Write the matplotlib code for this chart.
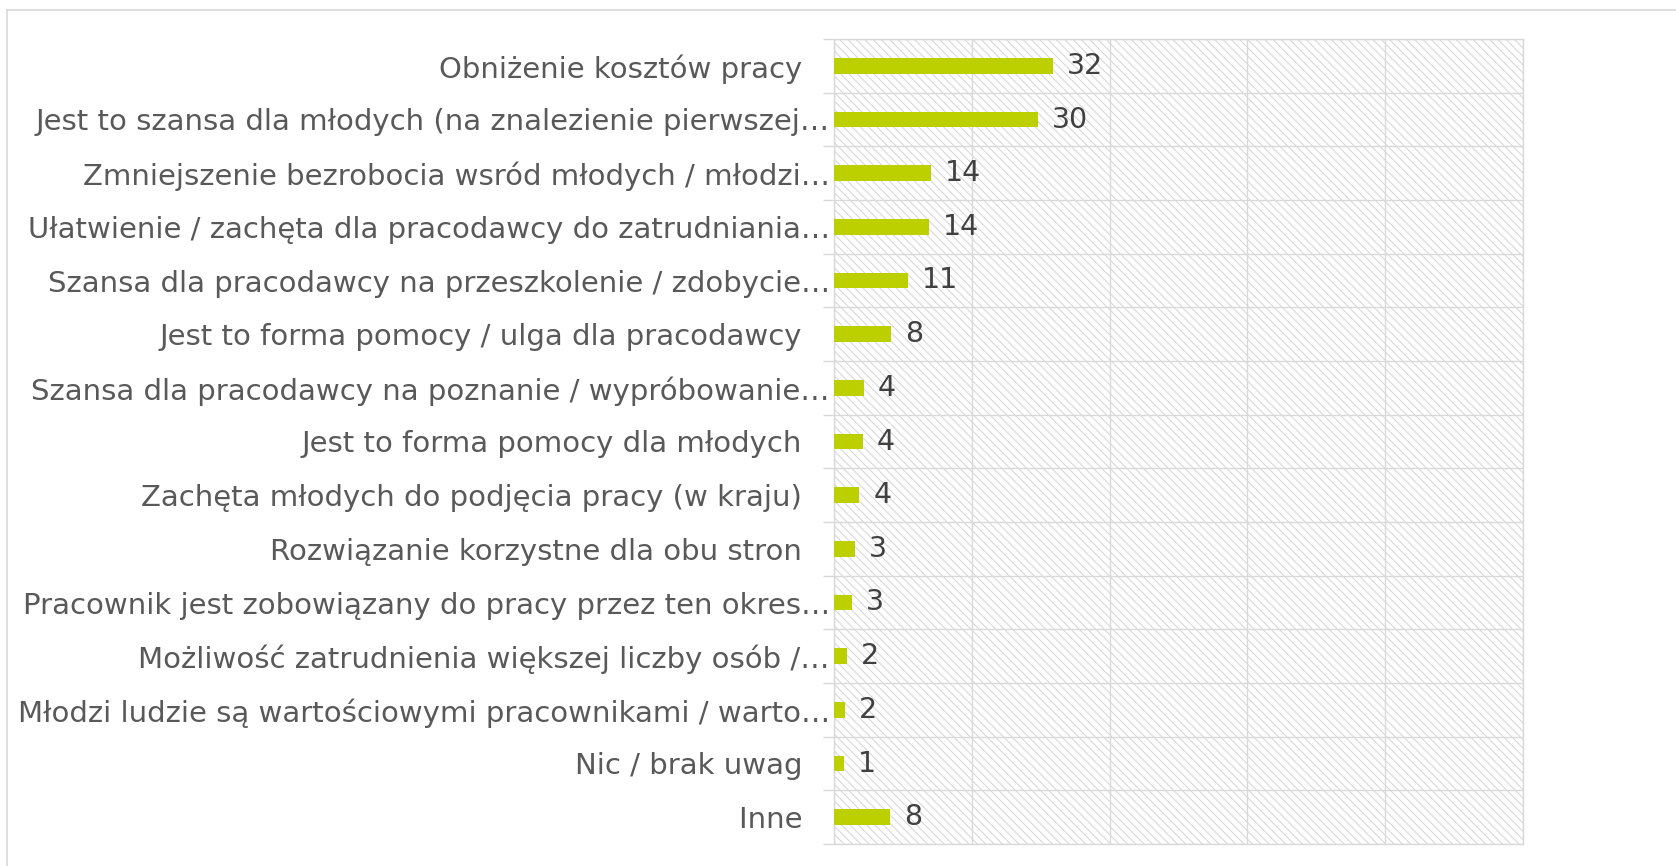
import numpy as np
import matplotlib.pyplot as plt
from matplotlib.patches import Rectangle
from matplotlib.lines import Line2D

categories = [
    "Obniżenie kosztów pracy   ",
    "Jest to szansa dla młodych (na znalezienie pierwszej…",
    "Zmniejszenie bezrobocia wsród młodych / młodzi…",
    "Ułatwienie / zachęta dla pracodawcy do zatrudniania…",
    "Szansa dla pracodawcy na przeszkolenie / zdobycie…",
    "Jest to forma pomocy / ulga dla pracodawcy   ",
    "Szansa dla pracodawcy na poznanie / wypróbowanie…",
    "Jest to forma pomocy dla młodych   ",
    "Zachęta młodych do podjęcia pracy (w kraju)   ",
    "Rozwiązanie korzystne dla obu stron   ",
    "Pracownik jest zobowiązany do pracy przez ten okres…",
    "Możliwość zatrudnienia większej liczby osób /…",
    "Młodzi ludzie są wartościowymi pracownikami / warto…",
    "Nic / brak uwag   ",
    "Inne   ",
]
values = [31.8, 29.6, 14.1, 13.8, 10.7, 8.3, 4.3, 4.2, 3.7, 3.0, 2.6, 1.9, 1.6, 1.4, 8.1]

bar_color = '#bcd000'
grid_color = '#d9d9d9'

plt.rcParams['font.family'] = ['DejaVu Sans']
plt.rcParams['hatch.linewidth'] = 0.7

fig = plt.figure(figsize=(16.76, 8.66), dpi=100)
ax = fig.add_axes([834/1676, 1-844/866, (1523-834)/1676, (844-39)/866])

n = len(categories)
y = np.arange(n)

# hatched plot area
bg = Rectangle((0, 0), 1, 1, transform=ax.transAxes, facecolor='white',
               edgecolor='#d4d4d4', hatch='\\\\\\\\', linewidth=0, zorder=0)
ax.add_patch(bg)

ax.barh(y, values, height=0.29, color=bar_color, zorder=3)

for yi, v in zip(y, values):
    ax.annotate(f"{v:.0f}", (v, yi), xytext=(10, 0), textcoords='offset points',
                va='center', ha='left', fontsize=20.5, color='#404040', zorder=4)

ax.set_xlim(0, 100)
ax.set_ylim(n - 0.5, -0.5)
ax.set_xticks(np.arange(0, 101, 20))
ax.set_xticklabels([])
ax.tick_params(axis='x', length=0)

ax.set_yticks(y)
ax.set_yticklabels(categories, fontsize=21, color='#595959')
ax.set_yticks(np.arange(-0.5, n, 1), minor=True)
ax.tick_params(axis='y', which='major', length=0, pad=3)
ax.tick_params(axis='y', which='minor', length=8, width=1.0, color=grid_color)

ax.grid(axis='x', which='major', color=grid_color, linewidth=1.0, zorder=1)
ax.grid(axis='y', which='minor', color=grid_color, linewidth=1.0, zorder=1)
ax.set_axisbelow(True)
for s in ax.spines.values():
    s.set_color(grid_color)
    s.set_linewidth(1.0)

# chart border (top and left visible)
fig.add_artist(Line2D([7/1676, 1], [1-10/866, 1-10/866], transform=fig.transFigure,
                      color=grid_color, linewidth=1.2))
fig.add_artist(Line2D([7/1676, 7/1676], [0, 1-10/866], transform=fig.transFigure,
                      color=grid_color, linewidth=1.2))

fig.savefig('out.png', dpi=100)
